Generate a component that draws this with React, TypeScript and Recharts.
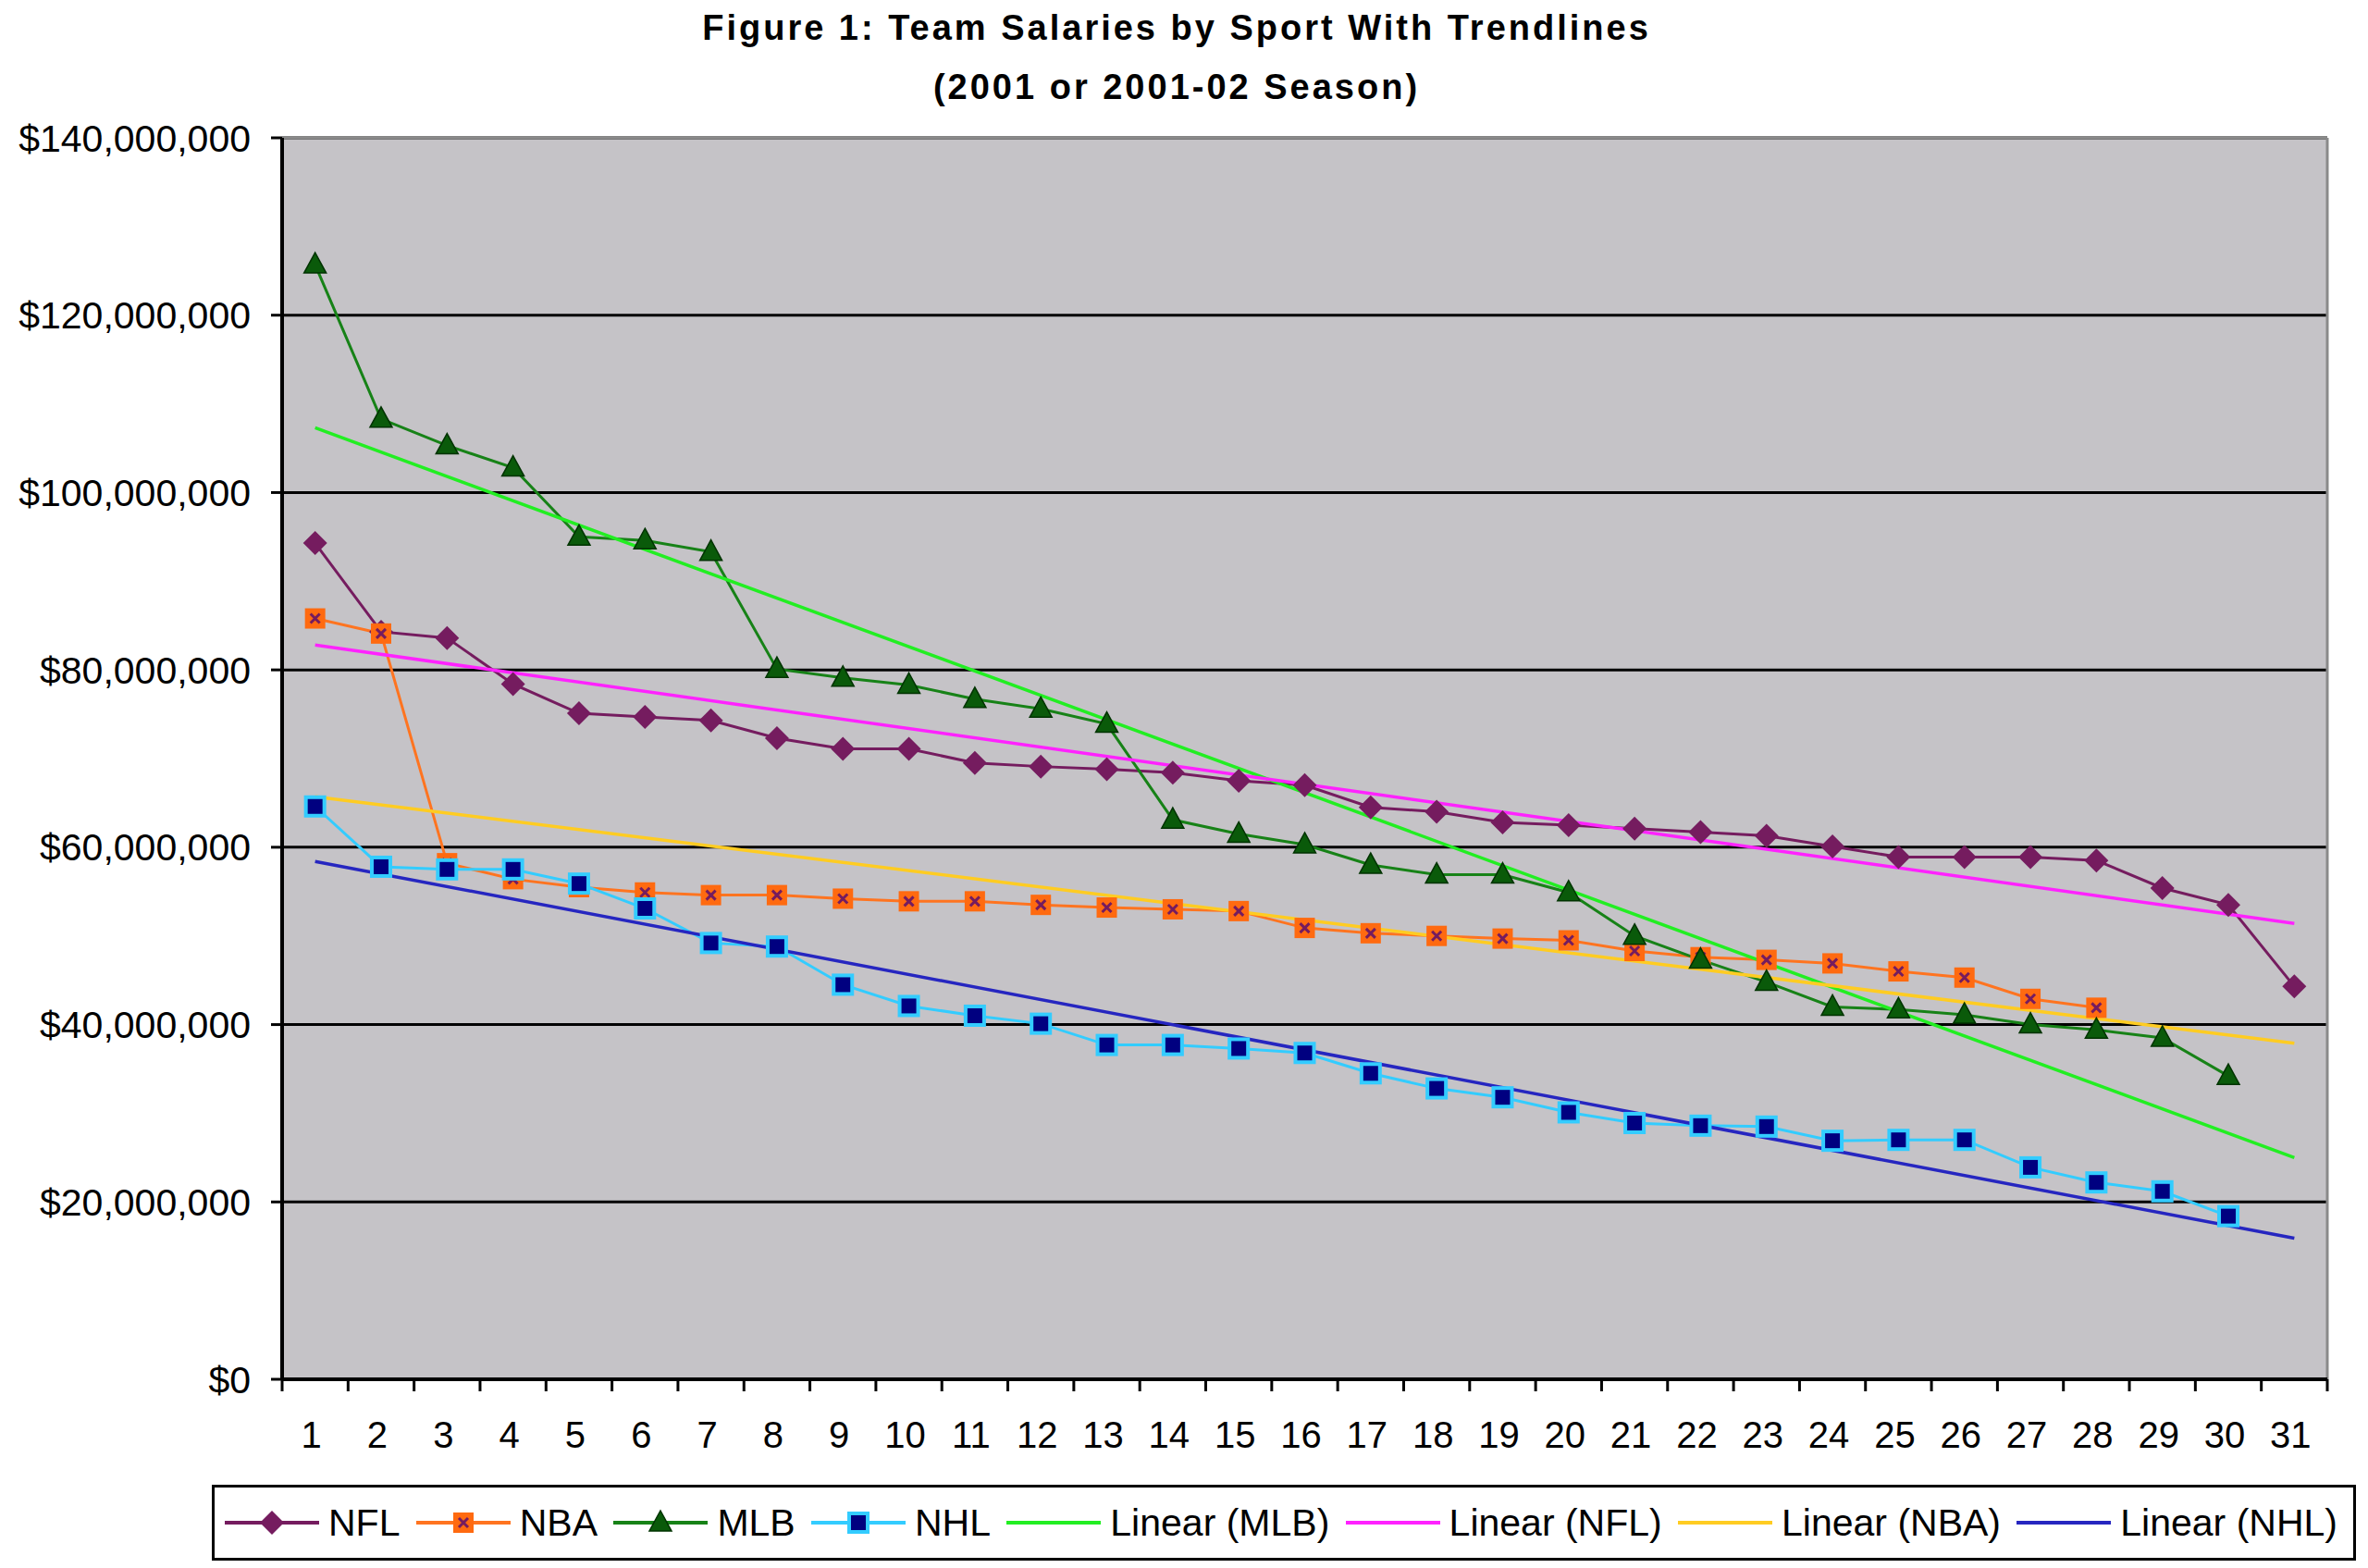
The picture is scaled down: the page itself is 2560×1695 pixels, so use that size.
import React from 'react';
import { LineChart, Line, XAxis, YAxis, CartesianGrid, Legend } from 'recharts';

// team payrolls, millions of dollars, sorted high to low
const categories = Array.from({ length: 31 }, (_, i) => String(i + 1));

const nfl = [94.3, 84.3, 83.6, 78.4, 75.1, 74.7, 74.3, 72.3, 71.1, 71.1, 69.5, 69.1, 68.8, 68.4, 67.5, 67.0,
    64.5, 64.0, 62.8, 62.5, 62.1, 61.7, 61.3, 60.1, 58.9, 58.9, 58.9, 58.5, 55.4, 53.5, 44.3];
const nba = [85.8, 84.1, 58.2, 56.4, 55.5, 54.9, 54.6, 54.6, 54.2, 53.9, 53.9, 53.5, 53.2, 53.0, 52.8, 50.9,
    50.3, 50.0, 49.7, 49.5, 48.3, 47.6, 47.3, 46.9, 46.0, 45.3, 42.9, 41.9];
const mlb = [125.7, 108.3, 105.3, 102.8, 95.0, 94.6, 93.3, 80.1, 79.1, 78.3, 76.7, 75.6, 73.9, 63.1, 61.5, 60.3,
    58.0, 56.9, 56.9, 54.9, 50.0, 47.3, 44.8, 42.0, 41.7, 41.1, 40.0, 39.4, 38.5, 34.2];
const nhl = [64.6, 57.8, 57.5, 57.5, 55.9, 53.1, 49.2, 48.8, 44.5, 42.1, 41.0, 40.1, 37.7, 37.7, 37.3, 36.8,
    34.5, 32.8, 31.8, 30.1, 28.9, 28.6, 28.5, 26.9, 27.0, 27.0, 23.9, 22.2, 21.2, 18.4];

// trendline ends, at category 1 and category 31
const trendMlb = [107.3, 25.0];
const trendNfl = [82.8, 51.4];
const trendNba = [65.7, 37.9];
const trendNhl = [58.4, 15.9];

const yTicks = [0, 20, 40, 60, 80, 100, 120, 140];

const endsOnly = (ends: number[], i: number) => (i === 0 ? ends[0] : i === categories.length - 1 ? ends[1] : null);

const data = categories.map((cat, i) => ({
    cat,
    nfl: nfl[i] ?? null,
    nba: nba[i] ?? null,
    mlb: mlb[i] ?? null,
    nhl: nhl[i] ?? null,
    trendMlb: endsOnly(trendMlb, i),
    trendNfl: endsOnly(trendNfl, i),
    trendNba: endsOnly(trendNba, i),
    trendNhl: endsOnly(trendNhl, i),
}));

const FONT = '"Liberation Sans", Arial, sans-serif';
const W = 2560;
const H = 1695;
const M_LEFT = 305;
const M_RIGHT = 44;
const BAND = (W - M_LEFT - M_RIGHT) / categories.length;

const C = {
    nfl: '#751c5f',
    nba: '#ff7420',
    nbaMark: '#ff6a10',
    mlb: '#178217',
    mlbMark: '#0a5a0a',
    nhl: '#33ccff',
    nhlFill: '#000080',
    tMlb: '#22ee22',
    tNfl: '#ff22ff',
    tNba: '#ffcc22',
    tNhl: '#2626c0',
    plot: '#c5c3c7',
};

type Kind = 'diamond' | 'nbaSquare' | 'nhlSquare' | 'triangle' | 'none';

const Marker = ({ kind, cx, cy }: { kind: Kind; cx: number; cy: number }) => {
    if (kind === 'diamond') {
        const r = 13;
        return <path d={`M${cx},${cy - r}L${cx + r},${cy}L${cx},${cy + r}L${cx - r},${cy}Z`} fill={C.nfl} />;
    }
    if (kind === 'nbaSquare') {
        return (
            <g>
                <rect x={cx - 11} y={cy - 11} width={22} height={22} fill={C.nbaMark} />
                <path d={`M${cx - 5},${cy - 5}L${cx + 5},${cy + 5}M${cx + 5},${cy - 5}L${cx - 5},${cy + 5}`} stroke={C.nfl} strokeWidth={3} />
            </g>
        );
    }
    if (kind === 'nhlSquare') {
        return <rect x={cx - 10} y={cy - 10} width={20} height={20} fill={C.nhlFill} stroke={C.nhl} strokeWidth={4} />;
    }
    if (kind === 'triangle') {
        return <path d={`M${cx},${cy - 13}L${cx + 12},${cy + 9}L${cx - 12},${cy + 9}Z`} fill={C.mlbMark} stroke="#003300" strokeWidth={1.5} />;
    }
    return null;
};

const dotFor = (kind: Kind, id: string) => (props: any) => {
    const { cx, cy, index, value } = props;
    if (cx == null || cy == null || value == null) return <g key={`${id}-${index}`} />;
    return (
        <g key={`${id}-${index}`}>
            <Marker kind={kind} cx={cx} cy={cy} />
        </g>
    );
};

const legendItems: { name: string; color: string; kind: Kind }[] = [
    { name: 'NFL', color: C.nfl, kind: 'diamond' },
    { name: 'NBA', color: C.nba, kind: 'nbaSquare' },
    { name: 'MLB', color: C.mlb, kind: 'triangle' },
    { name: 'NHL', color: C.nhl, kind: 'nhlSquare' },
    { name: 'Linear (MLB)', color: C.tMlb, kind: 'none' },
    { name: 'Linear (NFL)', color: C.tNfl, kind: 'none' },
    { name: 'Linear (NBA)', color: C.tNba, kind: 'none' },
    { name: 'Linear (NHL)', color: C.tNhl, kind: 'none' },
];

const LegendBox = () => (
    <div
        style={{
            boxSizing: 'border-box',
            width: 2318,
            height: 82,
            border: '3px solid #000',
            background: '#fff',
            display: 'flex',
            alignItems: 'center',
            justifyContent: 'space-between',
            padding: '0 17px 0 11px',
            fontFamily: FONT,
            fontSize: 41,
            color: '#000',
        }}
    >
        {legendItems.map((it) => (
            <div key={it.name} style={{ display: 'flex', alignItems: 'center' }}>
                <svg width={102} height={30} style={{ marginRight: 10 }}>
                    <line x1={0} y1={15} x2={102} y2={15} stroke={it.color} strokeWidth={4} />
                    <Marker kind={it.kind} cx={51} cy={15} />
                </svg>
                <span>{it.name}</span>
            </div>
        ))}
    </div>
);

const XTick = (props: any) => {
    const { x, y, payload, index } = props;
    const left = x - BAND / 2;
    return (
        <g>
            <line x1={left} y1={y} x2={left} y2={y + 13} stroke="#000" strokeWidth={3} />
            {index === categories.length - 1 && (
                <line x1={x + BAND / 2} y1={y} x2={x + BAND / 2} y2={y + 13} stroke="#000" strokeWidth={3} />
            )}
            <text x={x - 4} y={y + 74} textAnchor="middle" fontSize={40} fontFamily={FONT} fill="#000">
                {payload.value}
            </text>
        </g>
    );
};

const money = (v: number) => (v === 0 ? '$0' : '$' + (v * 1e6).toLocaleString('en-US'));

// grey frame on the top and right edges of the plot area
const topEdge = ({ offset }: any) => [offset.top];
const rightEdge = ({ offset }: any) => [offset.left + offset.width];

const App: React.FC = () => {
    return (
        <div style={{ position: 'absolute', left: 0, top: 0, width: W, height: H, background: '#fff' }}>
            <svg width={W} height={140} style={{ position: 'absolute', left: 0, top: 0 }}>
                <text x={1272} y={43} textAnchor="middle" fontFamily={FONT} fontWeight="bold" fontSize={38} letterSpacing={3}>
                    Figure 1: Team Salaries by Sport With Trendlines
                </text>
                <text x={1272} y={107} textAnchor="middle" fontFamily={FONT} fontWeight="bold" fontSize={38} letterSpacing={3}>
                    (2001 or 2001-02 Season)
                </text>
            </svg>
            <LineChart width={W} height={H} data={data} margin={{ top: 149, right: M_RIGHT, left: 0, bottom: 0 }}>
                <CartesianGrid vertical={false} stroke="#000" strokeWidth={3} fill={C.plot} fillOpacity={1} />
                <CartesianGrid
                    stroke="#8a8a8a"
                    strokeWidth={3}
                    horizontalCoordinatesGenerator={topEdge}
                    verticalCoordinatesGenerator={rightEdge}
                />
                <XAxis
                    dataKey="cat"
                    interval={0}
                    height={204}
                    padding={{ left: BAND / 2, right: BAND / 2 }}
                    tickLine={false}
                    tickSize={0}
                    tickMargin={0}
                    axisLine={{ stroke: '#000', strokeWidth: 4 }}
                    tick={<XTick />}
                />
                <YAxis
                    width={M_LEFT}
                    domain={[0, 140]}
                    ticks={yTicks}
                    interval={0}
                    tickFormatter={money}
                    tickSize={12}
                    tickMargin={22}
                    tickLine={{ stroke: '#000', strokeWidth: 3 }}
                    axisLine={{ stroke: '#000', strokeWidth: 4 }}
                    tick={{ fontSize: 41, fill: '#000', fontFamily: FONT }}
                />

                <Line dataKey="nfl" name="NFL" stroke={C.nfl} strokeWidth={3} dot={dotFor('diamond', 'nfl')} isAnimationActive={false} />
                <Line dataKey="nba" name="NBA" stroke={C.nba} strokeWidth={3} dot={dotFor('nbaSquare', 'nba')} isAnimationActive={false} />
                <Line dataKey="mlb" name="MLB" stroke={C.mlb} strokeWidth={3} dot={dotFor('triangle', 'mlb')} isAnimationActive={false} />
                <Line dataKey="nhl" name="NHL" stroke={C.nhl} strokeWidth={3} dot={dotFor('nhlSquare', 'nhl')} isAnimationActive={false} />
                <Line dataKey="trendMlb" name="Linear (MLB)" stroke={C.tMlb} strokeWidth={3.5} dot={false} connectNulls isAnimationActive={false} />
                <Line dataKey="trendNfl" name="Linear (NFL)" stroke={C.tNfl} strokeWidth={3.5} dot={false} connectNulls isAnimationActive={false} />
                <Line dataKey="trendNba" name="Linear (NBA)" stroke={C.tNba} strokeWidth={3.5} dot={false} connectNulls isAnimationActive={false} />
                <Line dataKey="trendNhl" name="Linear (NHL)" stroke={C.tNhl} strokeWidth={3.5} dot={false} connectNulls isAnimationActive={false} />

                <Legend
                    layout="horizontal"
                    verticalAlign="middle"
                    align="center"
                    content={() => <LegendBox />}
                    wrapperStyle={{ position: 'absolute', left: 229, top: 1605, width: 2318, height: 82 }}
                />
            </LineChart>
        </div>
    );
};

export default App;
